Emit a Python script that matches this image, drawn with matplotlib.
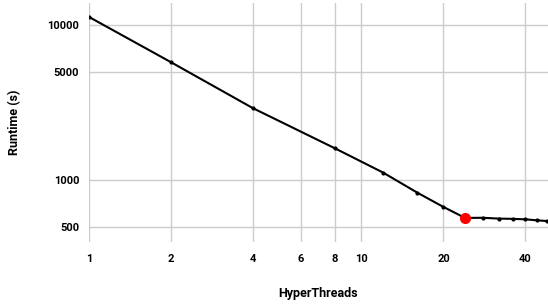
import numpy as np
import matplotlib.pyplot as plt
from matplotlib.ticker import FixedLocator, FixedFormatter, NullLocator

# Runtime vs number of hyperthreads (log-log)
threads = [1, 2, 4, 8, 12, 16, 20, 24, 28, 32, 36, 40, 44, 48]
runtime = [11300, 5770, 2915, 1606, 1122, 834, 673, 572, 573, 566, 564, 560, 552, 546]
best_threads = 24
best_runtime = 572

x_ticks = [1, 2, 4, 6, 8, 10, 20, 40]
y_ticks = [500, 1000, 5000, 10000]

plt.rcParams['font.family'] = ['Roboto', 'DejaVu Sans']

fig = plt.figure(figsize=(5.48, 3.06), dpi=100)
ax = fig.add_axes([89 / 548, 64 / 306, 1 - 89 / 548, 239 / 306])

ax.plot(threads, runtime, color='black', lw=1.5, marker='o', ms=2, zorder=3)
ax.plot([best_threads], [best_runtime], 'o', color='#ff0000', ms=7, zorder=4)

ax.set_xscale('log')
ax.set_yscale('log')
ax.set_xlim(1, 48.4)
ax.set_ylim(400, 13900)

ax.xaxis.set_major_locator(FixedLocator(x_ticks))
ax.xaxis.set_major_formatter(FixedFormatter([str(t) for t in x_ticks]))
ax.xaxis.set_minor_locator(NullLocator())
ax.yaxis.set_major_locator(FixedLocator(y_ticks))
ax.yaxis.set_major_formatter(FixedFormatter([str(t) for t in y_ticks]))
ax.yaxis.set_minor_locator(NullLocator())

ax.grid(True, color='#cccccc', lw=1)
ax.set_axisbelow(True)
for s in ax.spines.values():
    s.set_visible(False)
ax.tick_params(length=0, labelsize=8, pad=7)
for lab in ax.get_xticklabels() + ax.get_yticklabels():
    lab.set_fontweight('bold')
ax.tick_params(axis='x', pad=9)

fig.text(318 / 548, 1 - 294 / 306, 'HyperThreads', ha='center', va='center',
         fontsize=9, fontweight='bold')
fig.text(15 / 548, 1 - 122 / 306, 'Runtime (s)', ha='center', va='center',
         rotation=90, fontsize=9, fontweight='bold')

fig.savefig('out.png', dpi=100)
